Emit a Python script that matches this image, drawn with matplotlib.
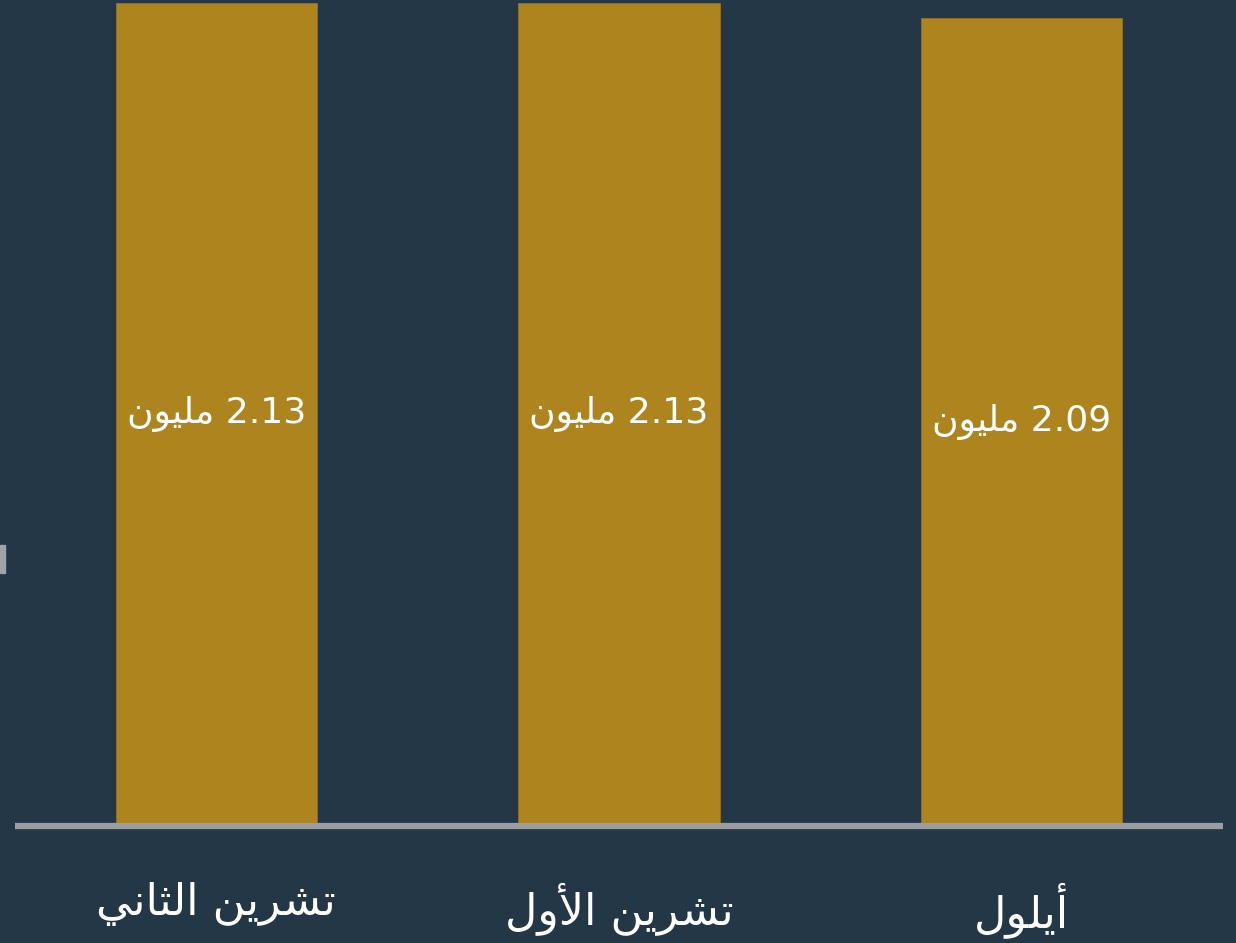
import matplotlib.pyplot as plt
from matplotlib.patches import Rectangle

# data (logical Arabic order, right-to-left in the picture)
months = ['تشرين الثاني', 'تشرين الأول', 'أيلول']
values = [2.13, 2.13, 2.09]
unit = 'مليون'

bg = '#243746'
gold = '#ae841f'
axis_gray = '#9b9ea0'

# Arabic presentation forms: isolated, final, initial, medial (None = does not join forward)
FORMS = {
    'ا': ('\ufe8d', '\ufe8e', None, None),
    'أ': ('\ufe83', '\ufe84', None, None),
    'ت': ('\ufe95', '\ufe96', '\ufe97', '\ufe98'),
    'ث': ('\ufe99', '\ufe9a', '\ufe9b', '\ufe9c'),
    'ر': ('\ufead', '\ufeae', None, None),
    'ش': ('\ufeb5', '\ufeb6', '\ufeb7', '\ufeb8'),
    'ل': ('\ufedd', '\ufede', '\ufedf', '\ufee0'),
    'م': ('\ufee1', '\ufee2', '\ufee3', '\ufee4'),
    'ن': ('\ufee5', '\ufee6', '\ufee7', '\ufee8'),
    'و': ('\ufeed', '\ufeee', None, None),
    'ي': ('\ufef1', '\ufef2', '\ufef3', '\ufef4'),
}
LAM_ALEF = {'ا': ('\ufefb', '\ufefc'), 'أ': ('\ufef7', '\ufef8')}


def shape_word(word):
    out = []
    i = 0
    prev_joins = False
    while i < len(word):
        ch = word[i]
        nxt = word[i + 1] if i + 1 < len(word) else None
        if ch == 'ل' and nxt in LAM_ALEF:
            out.append(LAM_ALEF[nxt][1 if prev_joins else 0])
            prev_joins = False
            i += 2
            continue
        f = FORMS[ch]
        next_ok = nxt is not None and nxt in FORMS and f[2] is not None
        if prev_joins and next_ok:
            out.append(f[3])
        elif prev_joins:
            out.append(f[1])
        elif next_ok:
            out.append(f[2])
        else:
            out.append(f[0])
        prev_joins = next_ok
        i += 1
    return ''.join(out)


def rtl(text):
    # shape each word, then lay out visually right-to-left
    words = [shape_word(w)[::-1] for w in text.split(' ')]
    return ' '.join(words[::-1])


fig = plt.figure(figsize=(12.36, 9.43), dpi=100, facecolor=bg)
ax = fig.add_axes([15 / 1236, 117 / 943, 1208 / 1236, 826 / 943])
ax.set_facecolor(bg)

x = range(len(months))
ax.bar(x, values, width=0.5, color=gold, edgecolor='#8f7224', linewidth=0.6, zorder=2)
ax.set_xlim(-0.5, 2.5)
ax.set_ylim(0, 2.1365)

for s in ['left', 'right', 'top']:
    ax.spines[s].set_visible(False)
ax.spines['bottom'].set_color(axis_gray)
ax.spines['bottom'].set_linewidth(4.5)
ax.spines['bottom'].set_capstyle('butt')
ax.spines['bottom'].set_zorder(3)
ax.set_yticks([])
ax.set_xticks(list(x))
ax.set_xticklabels([rtl(m) for m in months], color='white', fontsize=32,
                   family='DejaVu Sans')
ax.tick_params(axis='x', length=0, pad=40)

for i, v in enumerate(values):
    ax.text(i, v / 2, rtl(unit) + ' ' + '%.2f' % v, ha='center', va='center',
            color='white', fontsize=26, family='DejaVu Sans', zorder=4)

# small grey marker on the left edge
fig.patches.append(Rectangle((0, (943 - 573) / 943), 4.5 / 1236, 28 / 943,
                             transform=fig.transFigure, color='#a0a4a6', zorder=5))

fig.savefig('out.png', dpi=100, facecolor=bg)
